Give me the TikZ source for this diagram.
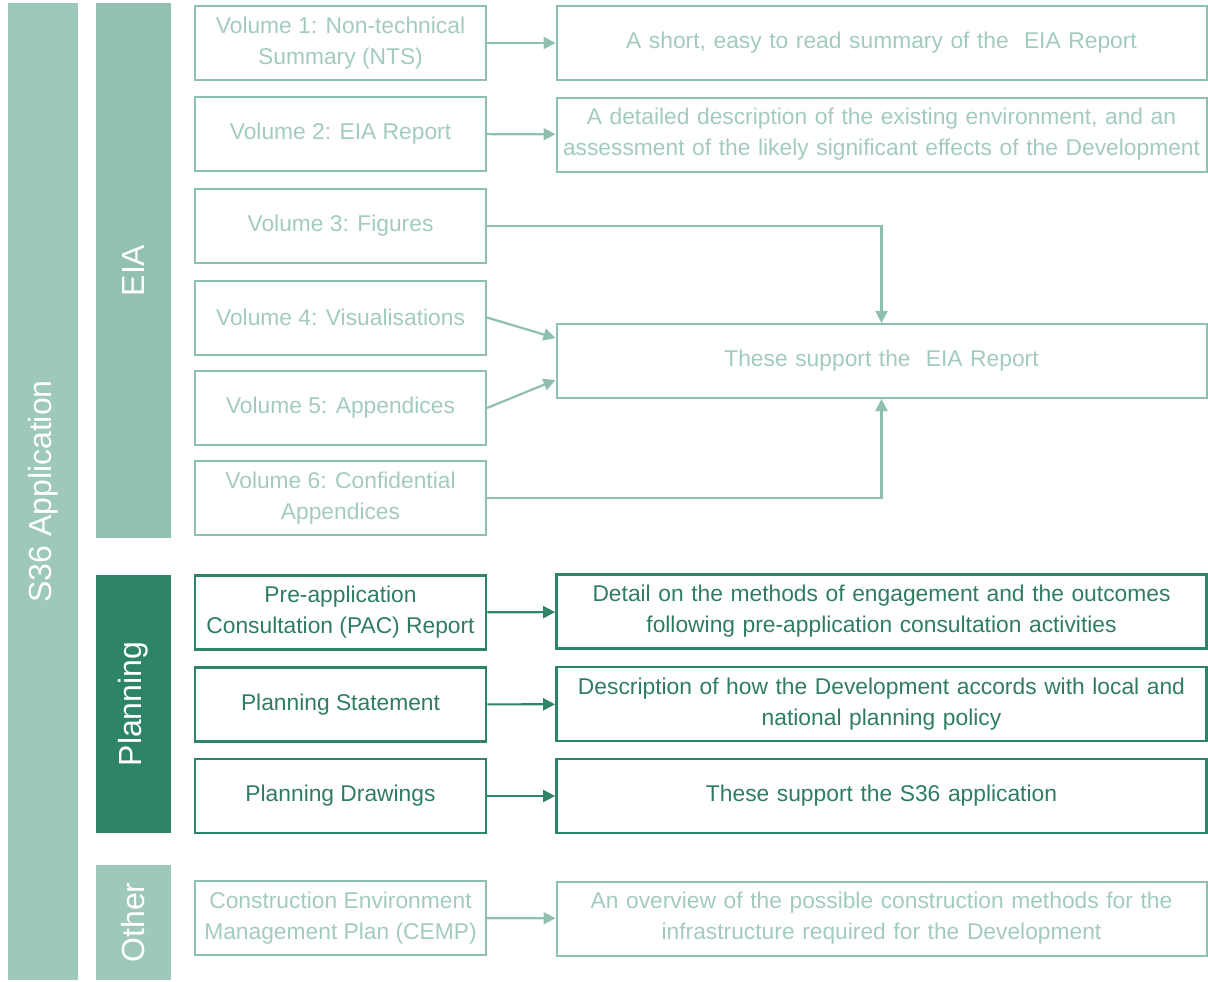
\documentclass[tikz,border=0pt]{standalone}
\usepackage{fontspec}
\setmainfont{Liberation Sans}
\usetikzlibrary{arrows.meta}
\definecolor{paleBar}{HTML}{9DC8BA}
\definecolor{eiaBar}{HTML}{92C0B1}
\definecolor{paleLine}{HTML}{8FC0AF}
\definecolor{paleText}{HTML}{A3CBBD}
\definecolor{deepGreen}{HTML}{2D8565}
\definecolor{deepText}{HTML}{2F7D5F}
\tikzstyle{bar}=[
	rotate=90,
	text=white,
	font=\fontsize{16}{19}\selectfont,
	inner sep=0pt
]
\tikzstyle{lbox}=[
	draw=paleLine,
	line width=1pt,
	text=paleText,
	minimum width=145.5pt,
	minimum height=37pt,
	align=center,
	inner sep=1.5pt,
	font=\fontsize{11.4}{15.5}\selectfont
]
\tikzstyle{rbox}=[
	lbox,
	minimum width=325pt,
	text width=320pt
]
\tikzstyle{dark}=[
	draw=deepGreen,
	line width=1.4pt,
	text=deepText
]
\tikzstyle{link}=[
	draw=paleLine,
	line width=1.1pt,
	-{Triangle[length=6pt,width=6pt]}
]

\begin{document}
\begin{tikzpicture}[x=0.5pt,y=-0.5pt]
\useasboundingbox (0,0) rectangle (1208,981);

% Side bars
\node[bar,fill=paleBar,minimum width=488.5pt,minimum height=35pt] (app) at (43,491.5){S36 Application};
\node[bar,fill=eiaBar,minimum width=267.5pt,minimum height=37.5pt] (eia) at (133.5,270.5){EIA};
\node[bar,fill=deepGreen,minimum width=129pt,minimum height=37.5pt] (plan) at (133.5,704){Planning};
\node[bar,fill=paleBar,minimum width=57.5pt,minimum height=37.5pt] (other) at (133.5,922.5){Other};

% EIA volumes
\node[lbox] (v1) at (340.5,43){Volume 1: Non-technical\\Summary (NTS)};
\node[lbox] (v2) at (340.5,134){Volume 2: EIA Report};
\node[lbox] (v3) at (340.5,226){Volume 3: Figures};
\node[lbox] (v4) at (340.5,317.5){Volume 4: Visualisations};
\node[lbox] (v5) at (340.5,408){Volume 5: Appendices};
\node[lbox] (v6) at (340.5,498){Volume 6: Confidential\\Appendices};

% EIA descriptions
\node[rbox] (nts) at (881.5,43){A short, easy to read summary of the\ \ EIA Report};
\node[rbox] (rep) at (881.5,134.5){A detailed description of the existing environment, and an\\assessment of the likely significant effects of the Development};
\node[rbox] (sup) at (881.5,361){These support the\ \ EIA Report};

% Planning documents
\node[lbox,dark] (pac) at (340.5,612.5){Pre-application\\Consultation (PAC) Report};
\node[lbox,dark] (stat) at (340.5,704.5){Planning Statement};
\node[lbox,dark] (draw) at (340.5,796){Planning Drawings};

% Planning descriptions
\node[rbox,dark] (pacd) at (881.5,611.5){Detail on the methods of engagement and the outcomes\\following pre-application consultation activities};
\node[rbox,dark] (statd) at (881.5,704){Description of how the Development accords with local and\\national planning policy};
\node[rbox,dark] (drawd) at (881.5,796){These support the S36 application};

% Other documents
\node[lbox] (cemp) at (340.5,918){Construction Environment\\Management Plan (CEMP)};
\node[rbox] (cempd) at (881.5,918.5){An overview of the possible construction methods for the\\infrastructure required for the Development};

% EIA links
\draw[link] (v1) -- (nts);
\draw[link] (v2) -- (rep);
\draw[link] (v3.east) -| (sup.north);
\draw[link] (v4.east) -- ([yshift=11.5pt]sup.west);
\draw[link] (v5.east) -- ([yshift=-9.5pt]sup.west);
\draw[link] (v6.east) -| (sup.south);

% Planning links
\draw[link,draw=deepGreen,fill=deepGreen] (pac) -- (pacd);
\draw[link,draw=deepGreen,fill=deepGreen] (stat) -- (statd);
\draw[link,draw=deepGreen,fill=deepGreen] (draw) -- (drawd);

% Other link
\draw[link] (cemp) -- (cempd);

\end{tikzpicture}
\end{document}
